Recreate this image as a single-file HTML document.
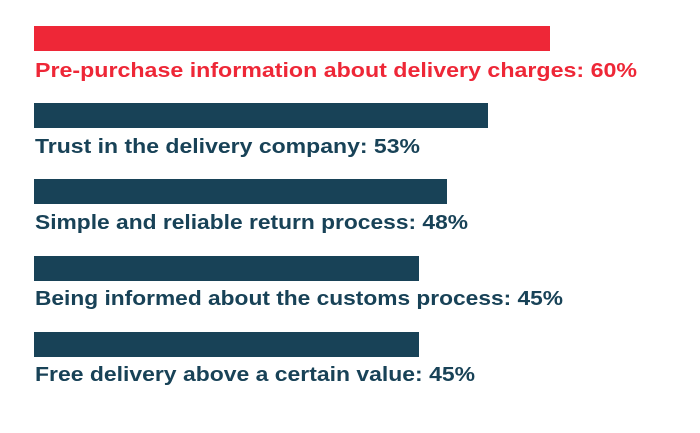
<!DOCTYPE html>
<html><head><meta charset="utf-8"><style>
html,body{margin:0;padding:0;background:#fff;}
svg text{font-family:"Liberation Sans",sans-serif;font-weight:bold;font-size:20px;}
</style></head><body>
<svg width="700" height="428" xmlns="http://www.w3.org/2000/svg">
<rect width="700" height="428" fill="#fff"/>
<rect x="34" y="26" width="516" height="25" fill="#EE2737"/>
<text x="35" y="77" fill="#EE2737" textLength="602" lengthAdjust="spacingAndGlyphs">Pre-purchase information about delivery charges: 60%</text>
<rect x="34" y="103" width="454" height="25" fill="#184257"/>
<text x="35" y="153" fill="#184257" textLength="385" lengthAdjust="spacingAndGlyphs">Trust in the delivery company: 53%</text>
<rect x="34" y="179" width="413" height="25" fill="#184257"/>
<text x="35" y="229" fill="#184257" textLength="433" lengthAdjust="spacingAndGlyphs">Simple and reliable return process: 48%</text>
<rect x="34" y="256" width="385" height="25" fill="#184257"/>
<text x="35" y="305" fill="#184257" textLength="528" lengthAdjust="spacingAndGlyphs">Being informed about the customs process: 45%</text>
<rect x="34" y="332" width="385" height="25" fill="#184257"/>
<text x="35" y="381" fill="#184257" textLength="440" lengthAdjust="spacingAndGlyphs">Free delivery above a certain value: 45%</text>
</svg>
</body></html>
